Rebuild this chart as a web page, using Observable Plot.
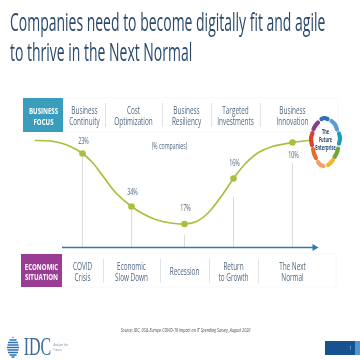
<!DOCTYPE html>
<html><head><meta charset="utf-8">
<style>
html,body{margin:0;padding:0;background:#fff;width:360px;height:360px;overflow:hidden}
#t{position:absolute;left:10px;top:7px;width:640px;font:400 25.5px/29.5px "Open Sans",sans-serif;color:#2b4a6b;transform:scaleX(.548);transform-origin:0 0;white-space:nowrap;filter:blur(.35px)}
#c{position:absolute;left:0;top:0;filter:blur(.35px)}
</style>
<script src="https://cdn.jsdelivr.net/npm/d3@7"></script>
<script src="https://cdn.jsdelivr.net/npm/@observablehq/plot@0.6"></script>
</head><body>
<div id="c"></div>
<div id="t">Companies need to become digitally fit and agile<br>to thrive in the Next Normal</div>
<script>
const focus = ["Business\nContinuity","Cost\nOptimization","Business\nResiliency","Targeted\nInvestments","Business\nInnovation"];
const situation = ["COVID\nCrisis","Economic\nSlow Down","Recession","Return\nto Growth","The Next\nNormal"];
const shares = ["23%","34%","17%","16%","10%"];

const stageX = [82,131,184,233,292];
const stageY = [153,206,223.5,178,142];
const labelY = [141,192,208,163,155];
const ruleTop = [157,210,235,197,163];
const focusX = [84,133,186,235,292];
const curveX = [35,50,62,72,82,92,102,115,131,142,155,170,184,196,207,220,233,245,258,272,292,308];
const curveY = [140,140.5,143,147,153,162,175,192,206,213,219,222.5,223.5,221,213,197,178,163,152,146,142,140];
const sepTop = [105,162,211,260];
const sepBot = [103,160,209,258];
const ring = [
 {c:"#2f6fb3",p:[[321,118.5],[324,117.5],[327,118.5]]},
 {c:"#5b9bd5",p:[[331,120.5],[334.5,124],[336.5,129]]},
 {c:"#1b9fb8",p:[[338.5,133],[339.5,138],[338.5,143]]},
 {c:"#6fa83a",p:[[337.5,148],[336.5,152],[334,156.5]]},
 {c:"#f2b632",p:[[332.5,159.5],[330,162.5],[327.5,164.5]]},
 {c:"#f0a068",p:[[323,165.5],[320,164.5],[317.5,161.5]]},
 {c:"#e2702c",p:[[315.5,157.5],[313.5,153],[312.5,148.5]]},
 {c:"#d8432c",p:[[311.5,144.5],[310.5,138],[312,132.5]]},
 {c:"#8e3a94",p:[[313,128.5],[315,125],[317.5,122]]}
];
const ringRows = ring.flatMap((s,i)=>s.p.map(([x,y])=>({x,y,i,c:s.c})));
const globe = [[12,337],[9,339.5],[7.5,342],[7,344.5],[6.5,347],[7,349.5],[7.5,352],[9,354.5],[11,356.5]];
const globeRows = globe.map(([a,y])=>({x1:a,x2:25-a,y}));

const ink="#4f6780";
const chart = Plot.plot({
  width:360,height:360,margin:0,
  x:{domain:[0,360],range:[0,360],axis:null},
  y:{domain:[0,360],range:[0,360],axis:null},
  style:{background:"#fff",fontFamily:"'Open Sans',sans-serif"},
  marks:[
    Plot.rect([{a:63,b:338,c:98,d:132},{a:62,b:336,c:254,d:287}],{x1:"a",x2:"b",y1:"c",y2:"d",fill:"#fff",stroke:"#f8f8f8"}),
    Plot.rect([0],{x1:[23],x2:[63],y1:[98],y2:[132],fill:"#3a9dbd"}),
    Plot.rect([0],{x1:[21],x2:[62],y1:[254],y2:[287],fill:"#9a3c93"}),
    Plot.ruleX(sepTop,{y1:103,y2:127,stroke:"#dfe3e6",strokeWidth:1}),
    Plot.ruleX(sepBot,{y1:259,y2:283,stroke:"#dfe3e6",strokeWidth:1}),
    Plot.ruleX(stageX,{y1:(d,i)=>ruleTop[i],y2:247,stroke:"#dcdcdc",strokeWidth:1}),
    Plot.ruleY([247],{x1:62,x2:314,stroke:"#2f78ae",strokeWidth:1.6}),
    Plot.dot([0],{x:[314],y:[247],symbol:"triangle",rotate:90,r:2.6,fill:"#2f78ae"}),
    Plot.line(curveX.map((x,i)=>({x,y:curveY[i]})),{x:"x",y:"y",curve:"catmull-rom",stroke:"#a8c13c",strokeWidth:1.7}),
    Plot.dot(stageX,{x:d=>d,y:(d,i)=>stageY[i],r:3.3,fill:"#a8c13c"}),
    Plot.line(ringRows,{x:"x",y:"y",z:"i",stroke:"c",strokeWidth:4.2,curve:"catmull-rom"}),
    Plot.text(shares,{x:(d,i)=>stageX[i]+1,y:(d,i)=>labelY[i],text:d=>d,fill:ink,fontSize:8.5}),
    Plot.text(["(% companies)"],{x:[169],y:[146],text:d=>d,fill:ink,fontSize:8.2}),
    Plot.text(focus,{x:(d,i)=>focusX[i],y:115.5,text:d=>d,fill:ink,fontSize:10,lineHeight:1.06}),
    Plot.text(situation,{x:(d,i)=>stageX[i],y:271.5,text:d=>d,fill:ink,fontSize:10,lineHeight:1.06}),
    Plot.text(["BUSINESS\nFOCUS"],{x:[43],y:[115.5],text:d=>d,fill:"#fff",fontWeight:700,fontSize:9.5,lineHeight:1.1}),
    Plot.text(["ECONOMIC\nSITUATION"],{x:[41],y:[271],text:d=>d,fill:"#fff",fontWeight:700,fontSize:9.5,lineHeight:1.1}),
    Plot.text(["The\nFuture\nEnterprise"],{x:[325],y:[139],text:d=>d,fill:"#23466f",fontWeight:700,fontSize:6.2,lineHeight:1.25}),
    Plot.text(["Source: IDC, US& Europe COVID-19 Impact on IT Spending Survey, August 2020"],{x:[185],y:[330],text:d=>d,fill:"#3f4a55",fontSize:5.9,fontStyle:"italic"}),
    Plot.link(globeRows,{x1:"x1",x2:"x2",y1:"y",y2:"y",stroke:"#2f6fb3",strokeWidth:1.5}),
    Plot.text(["IDC"],{x:[37],y:[346.5],text:d=>d,fill:"#3a6a98",fontFamily:"'Liberation Serif',serif",fontSize:25}),
    Plot.text(["Analyze the\nFuture"],{x:[53],y:[346],text:d=>d,textAnchor:"start",fill:"#7d8a96",fontSize:4.2,lineHeight:1.2}),
    Plot.rect([0],{x1:[325],x2:[355],y1:[341],y2:[355],fill:"#15528f"}),
    Plot.rect([0],{x1:[355],x2:[360],y1:[341],y2:[355],fill:"#4f95cf"}),
    Plot.text(["1"],{x:[350],y:[348],text:d=>d,fill:"#cfe0ee",fontSize:5})
  ]
});
document.getElementById("c").appendChild(chart);
d3.select(chart).selectAll("text").each(function(){
  const t=this.getAttribute("transform");
  if(t) this.setAttribute("transform",t+" scale(.64,1)");
});
</script>
</body></html>
